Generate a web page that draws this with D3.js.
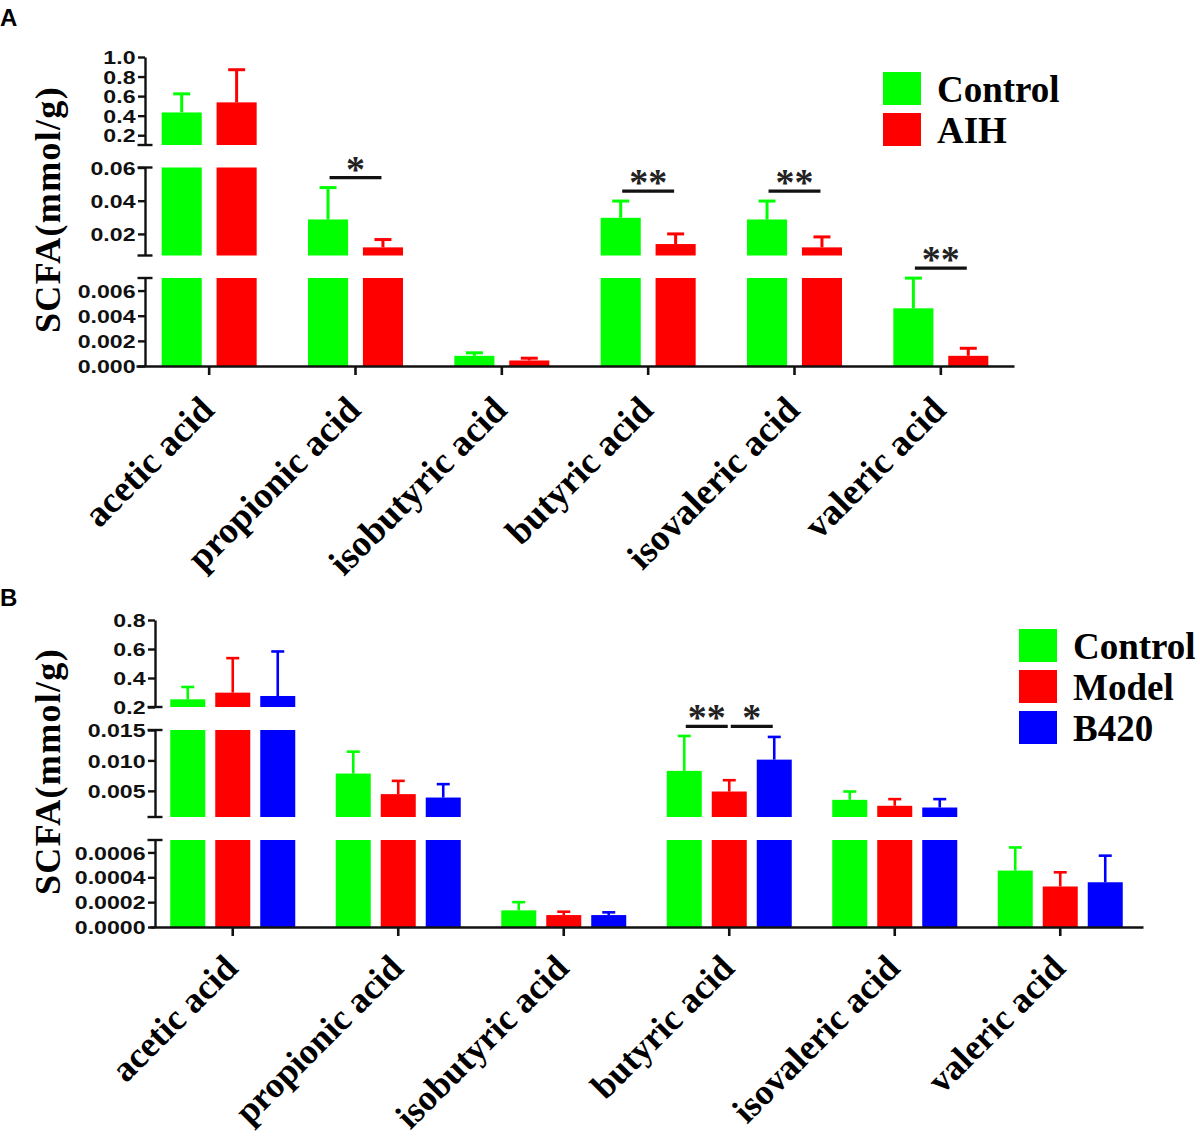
<!DOCTYPE html>
<html>
<head>
<meta charset="utf-8">
<script src="https://cdn.jsdelivr.net/npm/d3@7"></script>
<style>
  body { margin: 0; background: #fff; }
</style>
</head>
<body>
<div id="container"></div>
<script>
// categories shared by both panels
const acids = ['acetic acid', 'propionic acid', 'isobutyric acid', 'butyric acid', 'isovaleric acid', 'valeric acid'];

// Panel A: Control vs AIH, mean and SD (mmol/g)
const groupsA = ['Control', 'AIH'];
const meanA_Control = [0.433, 0.0287, 0.00081, 0.0297, 0.0287, 0.00459];
const sdA_Control   = [0.19, 0.0192, 0.00024, 0.0101, 0.0111, 0.0024];
const meanA_AIH     = [0.536, 0.0119, 0.00044, 0.0139, 0.0119, 0.00081];
const sdA_AIH       = [0.334, 0.0047, 0.00018, 0.0061, 0.0063, 0.0006];
// broken y axis: pieces from bottom to top
const breaksA  = [[0, 0.007], [0.007, 0.06], [0.1, 1.0]];
const ticksA   = [[0, 0.002, 0.004, 0.006], [0.02, 0.04, 0.06], [0.2, 0.4, 0.6, 0.8, 1.0]];
const tickFmtA = ['.3f', '.2f', '.1f'];
const sigA = [
  ['propionic acid', 'Control', 'AIH', '*'],
  ['butyric acid', 'Control', 'AIH', '**'],
  ['isovaleric acid', 'Control', 'AIH', '**'],
  ['valeric acid', 'Control', 'AIH', '**']
];

// Panel B: Control / Model / B420
const groupsB = ['Control', 'Model', 'B420'];
const meanB_Control = [0.253, 0.00784, 0.000134, 0.00828, 0.00352, 0.000454];
const sdB_Control   = [0.085, 0.0036, 0.000066, 0.00574, 0.00137, 0.000186];
const meanB_Model   = [0.299, 0.00446, 0.000096, 0.00489, 0.00254, 0.000326];
const sdB_Model     = [0.238, 0.00218, 0.000027, 0.00186, 0.0011, 0.000114];
const meanB_B420    = [0.276, 0.0039, 0.000096, 0.01013, 0.00226, 0.00036];
const sdB_B420      = [0.307, 0.0022, 0.000022, 0.00373, 0.00138, 0.000214];
const breaksB  = [[0, 0.0007], [0.0007, 0.015], [0.2, 0.8]];
const ticksB   = [[0, 0.0002, 0.0004, 0.0006], [0.005, 0.010, 0.015], [0.2, 0.4, 0.6, 0.8]];
const tickFmtB = ['.4f', '.3f', '.1f'];
const sigB = [
  ['butyric acid', 'Control', 'Model', '**'],
  ['butyric acid', 'Model', 'B420', '*']
];

const SERIF = "'Liberation Serif', 'Times New Roman', serif";
const SANS = "'Liberation Sans', Arial, sans-serif";

const svg = d3.create('svg')
    .attr('width', 1200)
    .attr('height', 1140)
    .style('background', '#fff');

function panel(o) {
  const g = svg.append('g');

  const x = d3.scaleBand().domain(acids).range(o.xRange);
  const sub = d3.scaleBand().domain(o.groups).range([-o.groupW / 2, o.groupW / 2]).paddingInner(o.pad);
  const color = d3.scaleOrdinal().domain(o.groups).range(o.colors);
  const cx = d => x(d.acid) + x.bandwidth() / 2 + sub(d.group) + sub.bandwidth() / 2;

  // one linear scale per axis piece
  const ys = o.breaks.map((b, i) => {
    const bottom = o.axisY - i * (o.segH + o.gap);
    return d3.scaleLinear().domain(b).range([bottom, bottom - o.segH]);
  });
  const pieceOf = v => ys.find(y => v <= y.domain()[1]) || ys[ys.length - 1];

  const rows = [];
  o.groups.forEach((gr, gi) => acids.forEach((a, ai) =>
    rows.push({ acid: a, group: gr, mean: o.means[gi][ai], sd: o.sds[gi][ai] })));

  // bars, drawn piece by piece
  ys.forEach(y => {
    const [lo, hi] = y.domain();
    g.append('g').selectAll('rect')
      .data(rows.filter(d => d.mean > lo))
      .join('rect')
        .attr('x', d => x(d.acid) + x.bandwidth() / 2 + sub(d.group))
        .attr('width', sub.bandwidth())
        .attr('y', d => y(Math.min(d.mean, hi)))
        .attr('height', d => y(lo) - y(Math.min(d.mean, hi)))
        .attr('fill', d => color(d.group));
  });

  // error bars (upper only)
  const eb = g.append('g').selectAll('g').data(rows).join('g')
      .attr('stroke', d => color(d.group))
      .attr('stroke-width', o.ebWidth);
  eb.append('line')
      .attr('x1', cx).attr('x2', cx)
      .attr('y1', d => pieceOf(d.mean)(d.mean))
      .attr('y2', d => pieceOf(d.mean)(d.mean + d.sd));
  eb.append('line')
      .attr('x1', d => cx(d) - o.capW / 2).attr('x2', d => cx(d) + o.capW / 2)
      .attr('y1', d => pieceOf(d.mean)(d.mean + d.sd))
      .attr('y2', d => pieceOf(d.mean)(d.mean + d.sd));

  // y axis pieces
  ys.forEach((y, i) => {
    const ax = g.append('g')
        .attr('transform', `translate(${o.axisX},0)`)
        .call(d3.axisLeft(y).tickValues(o.ticks[i]).tickFormat(d3.format(o.fmts[i])).tickSize(7).tickSizeOuter(0));
    ax.select('.domain').attr('stroke', '#111').attr('stroke-width', 2.4);
    ax.selectAll('.tick line').attr('stroke', '#111').attr('stroke-width', 2.4);
    ax.selectAll('.tick text')
        .attr('x', -9.5 / 1.25)
        .attr('dy', '0.36em')
        .attr('transform', 'scale(1.25,1)')
        .attr('fill', '#111')
        .style('font-family', SANS)
        .style('font-weight', 'bold')
        .style('font-size', '18.5px');
    // caps at the break ends
    const ends = [];
    if (i > 0) ends.push(y.range()[0]);
    if (i < ys.length - 1) ends.push(y.range()[1]);
    ax.selectAll('line.cap').data(ends).join('line')
        .attr('class', 'cap')
        .attr('x1', -7.5).attr('x2', 7.5)
        .attr('y1', d => d).attr('y2', d => d)
        .attr('stroke', '#111').attr('stroke-width', 2.4);
  });

  // x axis
  const xa = g.append('g')
      .attr('transform', `translate(0,${o.axisY})`)
      .call(d3.axisBottom(x).tickSize(9).tickSizeOuter(0));
  xa.select('.domain').attr('stroke', '#111').attr('stroke-width', 2.4);
  xa.selectAll('.tick line').attr('stroke', '#111').attr('stroke-width', 2.6);
  xa.selectAll('.tick text')
      .attr('x', 0).attr('y', 0).attr('dy', 0)
      .attr('transform', `translate(${o.labelDx},${o.labelDy}) rotate(-45)`)
      .attr('text-anchor', 'end')
      .attr('fill', '#000')
      .style('font-family', SERIF)
      .style('font-weight', 'bold')
      .style('font-size', o.labelSize + 'px');

  // y title
  g.append('text')
      .attr('transform', `translate(${o.titleX},${(o.axisY + ys[ys.length - 1].range()[1]) / 2 - 2}) rotate(-90)`)
      .attr('text-anchor', 'middle')
      .style('font-family', SERIF)
      .style('font-weight', 'bold')
      .style('font-size', '36px')
      .style('letter-spacing', '1.3px')
      .text('SCFA(mmol/g)');

  // significance bars
  const find = (a, gr) => rows.find(d => d.acid === a && d.group === gr);
  const sg = g.append('g').selectAll('g').data(o.sig).join('g');
  sg.each(function (s) {
    const a = find(s[0], s[1]), b = find(s[0], s[2]);
    const all = o.groups.map(gr => find(s[0], gr));
    const top = d3.min(all, d => pieceOf(d.mean)(d.mean + d.sd)) - o.sigGap;
    const x1 = cx(a) + 1.5, x2 = cx(b) - 1.5;
    const sel = d3.select(this);
    sel.append('line')
        .attr('x1', x1).attr('x2', x2).attr('y1', top).attr('y2', top)
        .attr('stroke', '#111').attr('stroke-width', 3.2);
    sel.append('text')
        .attr('x', (x1 + x2) / 2).attr('y', top + 4)
        .attr('text-anchor', 'middle')
        .attr('fill', '#222')
        .style('font-family', SERIF)
        .style('font-weight', 'bold')
        .style('font-size', '38px')
        .text(s[3]);
  });

  // legend
  const lg = g.append('g').attr('transform', `translate(${o.legend[0]},${o.legend[1]})`);
  const li = lg.selectAll('g').data(o.groups).join('g')
      .attr('transform', (d, i) => `translate(0,${i * o.legendStep})`);
  li.append('rect').attr('width', 38).attr('height', 33).attr('fill', d => color(d));
  li.append('text')
      .attr('x', 54).attr('y', 30)
      .style('font-family', SERIF)
      .style('font-weight', 'bold')
      .style('font-size', '37px')
      .text(d => d);

  // panel letter
  svg.append('text')
      .attr('x', 0).attr('y', o.letterY)
      .style('font-family', SANS)
      .style('font-weight', 'bold')
      .style('font-size', '24px')
      .text(o.letter);
}

panel({
  letter: 'A', letterY: 26,
  groups: groupsA, colors: ['#00FF00', '#FF0000'],
  means: [meanA_Control, meanA_AIH], sds: [sdA_Control, sdA_AIH],
  breaks: breaksA, ticks: ticksA, fmts: tickFmtA, sig: sigA,
  xRange: [136, 1014], groupW: 95, pad: 0.27,
  axisX: 145, axisY: 366, segH: 88, gap: 22.5,
  capW: 17, ebWidth: 3, sigGap: 10,
  labelDx: 7, labelDy: 46, labelSize: 37, titleX: 60,
  legend: [883, 72], legendStep: 41
});

panel({
  letter: 'B', letterY: 606,
  groups: groupsB, colors: ['#00FF00', '#FF0000', '#0000FF'],
  means: [meanB_Control, meanB_Model, meanB_B420], sds: [sdB_Control, sdB_Model, sdB_B420],
  breaks: breaksB, ticks: ticksB, fmts: tickFmtB, sig: sigB,
  xRange: [150, 1143], groupW: 125, pad: 0.222,
  axisX: 155, axisY: 927, segH: 87, gap: 23,
  capW: 13, ebWidth: 2.6, sigGap: 9.5,
  labelDx: 7, labelDy: 43, labelSize: 36, titleX: 60,
  legend: [1019, 629], legendStep: 41
});

container.append(svg.node());
</script>
</body>
</html>
